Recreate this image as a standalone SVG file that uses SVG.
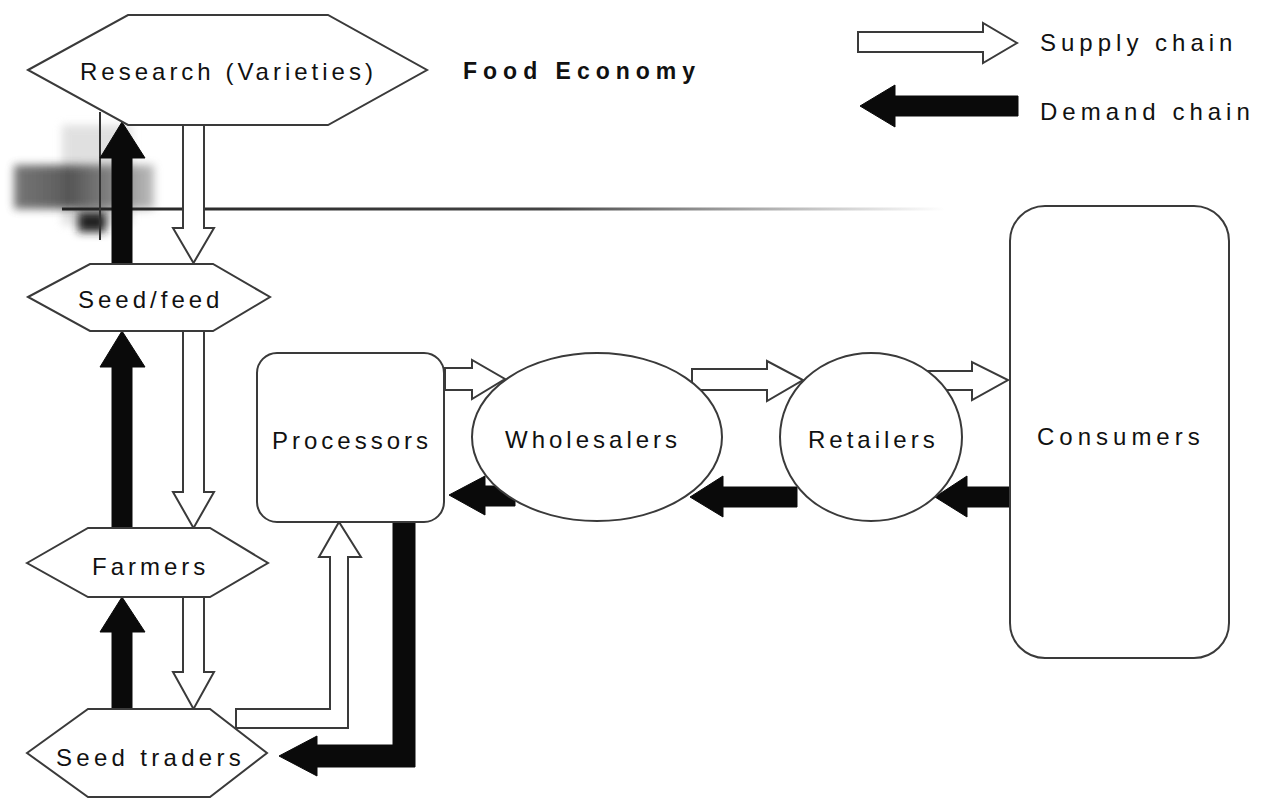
<svg xmlns="http://www.w3.org/2000/svg" width="1267" height="799" viewBox="0 0 1267 799">
<defs>
<style>
.node{fill:#fff;stroke:#3a3a3a;stroke-width:2}
.sup{fill:#fff;stroke:#3a3a3a;stroke-width:2;stroke-linejoin:miter}
.dem{fill:#0a0a0a;stroke:#0a0a0a;stroke-width:1}
.lbl{font-family:"Liberation Sans",Arial,sans-serif;font-size:24px;fill:#111;letter-spacing:4px}
.title{font-family:"Liberation Sans",Arial,sans-serif;font-size:23px;font-weight:bold;fill:#111;letter-spacing:6px}
</style>
<linearGradient id="fade" gradientUnits="userSpaceOnUse" x1="62" y1="209" x2="945" y2="209">
<stop offset="0" stop-color="#222"/>
<stop offset="0.55" stop-color="#444"/>
<stop offset="1" stop-color="#555" stop-opacity="0"/>
</linearGradient>
<linearGradient id="smudge" x1="0" y1="0" x2="1" y2="0">
<stop offset="0" stop-color="#555"/>
<stop offset="0.4" stop-color="#333"/>
<stop offset="1" stop-color="#aaa"/>
</linearGradient>
<filter id="blur" x="-50%" y="-50%" width="200%" height="200%"><feGaussianBlur stdDeviation="4"/></filter>
</defs>
<rect width="1267" height="799" fill="#fff"/>

<g id="artifacts">
<rect x="62" y="125" width="70" height="100" fill="#d4d4d4" filter="url(#blur)" opacity="0.7"/>
<rect x="14" y="165" width="140" height="44" fill="url(#smudge)" filter="url(#blur)" opacity="0.8"/>
<rect x="78" y="212" width="28" height="20" fill="#222" filter="url(#blur)"/>
<line x1="62" y1="209" x2="945" y2="209" stroke="url(#fade)" stroke-width="3"/>
<line x1="100" y1="112" x2="100" y2="240" stroke="#333" stroke-width="2"/>
</g>

<g id="connectors">
<!-- vertical supply (down) -->
<polygon class="sup" points="183,125 204,125 204,228 214,228 193.5,263 173,228 183,228"/>
<polygon class="sup" points="183,331 204,331 204,492 214,492 193.5,528 173,492 183,492"/>
<polygon class="sup" points="183,597 204,597 204,672 214,672 193.5,709 173,672 183,672"/>
<!-- vertical demand (up) -->
<polygon class="dem" points="112,264 132,264 132,158 145,158 122,122 100,158 112,158"/>
<polygon class="dem" points="112,528 132,528 132,367 145,367 122,331 100,367 112,367"/>
<polygon class="dem" points="112,709 132,709 132,632 145,632 122,597 100,632 112,632"/>
<!-- seed traders -> processors supply -->
<polygon class="sup" points="236,709 330,709 330,557 319,557 339,522 361,557 348,557 348,728 236,728"/>
<!-- processors -> seed traders demand -->
<polygon class="dem" points="393,522 415,522 415,767 317,767 317,776 279,756 317,736 317,745 393,745"/>
<!-- horizontal supply -->
<polygon class="sup" points="445,368 472,368 472,360 505,379 472,399 472,390 445,390"/>
<polygon class="sup" points="692,369 767,369 767,361 803,380 767,401 767,390 692,390"/>
<polygon class="sup" points="928,371 972,371 972,362 1008,380 972,400 972,390 928,390"/>
<!-- horizontal demand -->
<polygon class="dem" points="515,486 485,486 485,476 449,495 485,515 485,506 515,506"/>
<polygon class="dem" points="797,487 723,487 723,476 690,497 723,517 723,507 797,507"/>
<polygon class="dem" points="1010,487 967,487 967,476 935,497 967,517 967,507 1010,507"/>
</g>

<g id="research">
<polygon class="node" points="28,70 128,15 328,15 427,70 328,125 128,125"/>
<text class="lbl" x="80" y="80">Research (Varieties)</text>
</g>
<g id="seedfeed">
<polygon class="node" points="28,297 90,264 213,264 270,297 213,331 90,331"/>
<text class="lbl" x="78" y="308">Seed/feed</text>
</g>
<g id="farmers">
<polygon class="node" points="27,563 88,528 210,528 268,563 210,597 88,597"/>
<text class="lbl" x="92" y="575">Farmers</text>
</g>
<g id="seedtraders">
<polygon class="node" points="27,753 88,709 210,709 267,753 210,797 88,797"/>
<text class="lbl" x="56" y="766" style="letter-spacing:4.3px">Seed traders</text>
</g>
<g id="processors">
<rect class="node" x="257" y="353" width="187" height="169" rx="20"/>
<text class="lbl" x="272" y="449">Processors</text>
</g>
<g id="wholesalers">
<ellipse class="node" cx="597" cy="437" rx="125" ry="84"/>
<text class="lbl" x="505" y="448">Wholesalers</text>
</g>
<g id="retailers">
<ellipse class="node" cx="871" cy="437" rx="91" ry="84"/>
<text class="lbl" x="808" y="448">Retailers</text>
</g>
<g id="consumers">
<rect class="node" x="1010" y="206" width="219" height="452" rx="35"/>
<text class="lbl" x="1037" y="445" style="letter-spacing:5px">Consumers</text>
</g>

<g id="title">
<text class="title" x="463" y="79">Food Economy</text>
</g>

<g id="legend">
<polygon class="sup" points="858,32 983,32 983,23 1017,43 983,63 983,52 858,52"/>
<text class="lbl" x="1040" y="51" style="letter-spacing:5px">Supply chain</text>
<polygon class="dem" points="1018,96 895,96 895,85 860,106 895,127 895,116 1018,116"/>
<text class="lbl" x="1040" y="120" style="letter-spacing:5px">Demand chain</text>
</g>
</svg>
